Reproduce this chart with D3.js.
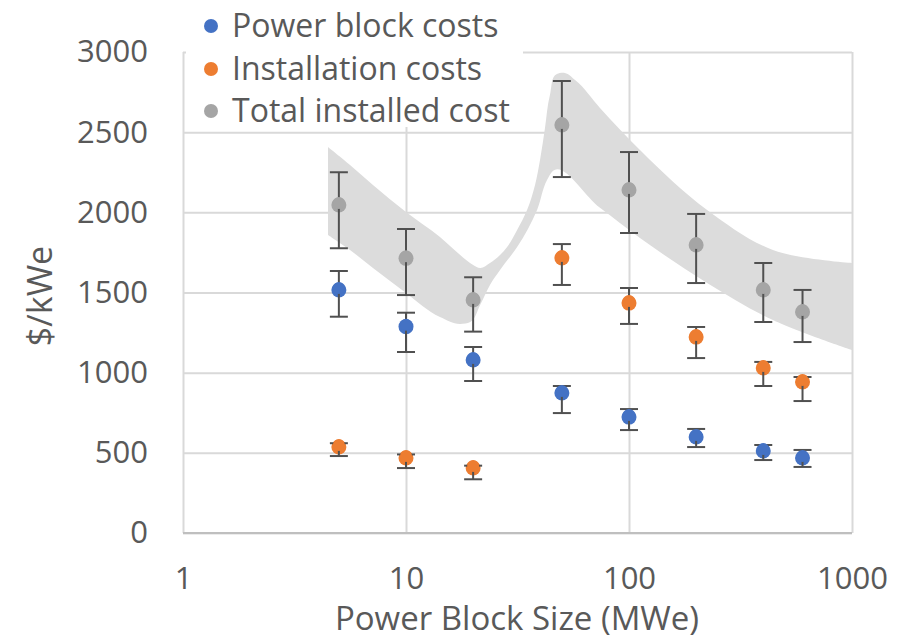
<!DOCTYPE html>
<html>
<head>
<meta charset="utf-8">
<script src="https://cdn.jsdelivr.net/npm/d3@7"></script>
<style>
  html, body { margin: 0; padding: 0; background: #fff; }
  svg { display: block; font-family: "Open Sans", "DejaVu Sans", sans-serif; }
</style>
</head>
<body>
<svg id="chart" width="908" height="639"></svg>
<script>
// Power block sizes (MWe) at which costs were evaluated
const sizes = [5, 10, 20, 50, 100, 200, 400, 600];

// Power block costs ($/kWe) with lower / upper error limits
const powerBlock     = [1516, 1287, 1079, 873, 723, 599, 511, 468];
const powerBlockLow  = [1349, 1129, 948, 748, 642, 536, 455, 412];
const powerBlockHigh = [1634, 1374, 1160, 917, 773, 649, 549, 518];

// Installation costs ($/kWe)
const installation     = [536, 468, 405, 1715, 1434, 1222, 1029, 942];
const installationLow  = [480, 405, 335, 1547, 1304, 1091, 917, 823];
const installationHigh = [560, 490, 420, 1802, 1528, 1285, 1067, 973];

// Total installed cost ($/kWe)
const total     = [2046, 1713, 1453, 2545, 2139, 1796, 1516, 1378];
const totalLow  = [1776, 1484, 1256, 2220, 1871, 1559, 1316, 1191];
const totalHigh = [2250, 1896, 1595, 2819, 2376, 1990, 1684, 1516];

// Shaded range of total installed cost: upper and lower envelopes
const bandUpperX = [4.47, 5.61, 7.11, 10, 14.2, 17.5, 20, 21.5, 23.8, 26.4, 28.4, 31.5, 34.9, 37.9, 39.9, 42.0, 44.2, 47.5, 51.6, 57.3, 74.1, 112, 224, 442, 1000];
const bandUpper  = [2407, 2295, 2171, 2002, 1846, 1734, 1672, 1653, 1684, 1734, 1784, 1890, 2015, 2171, 2326, 2526, 2732, 2863, 2869, 2825, 2651, 2389, 2015, 1765, 1684];
const bandLowerX = [4.47, 5.61, 7.11, 10, 14.2, 17.5, 19.4, 21.5, 23.8, 26.4, 31.5, 38.7, 42.9, 45.1, 74.1, 112, 224, 442, 1000];
const bandLower  = [1859, 1765, 1653, 1497, 1347, 1304, 1316, 1422, 1547, 1640, 1784, 2015, 2202, 2252, 2028, 1840, 1560, 1328, 1141];

// Axis ticks and labels
const xTicks = [1, 10, 100, 1000];
const yTicks = [0, 500, 1000, 1500, 2000, 2500, 3000];
const xTitle = "Power Block Size (MWe)";
const yTitle = "$/kWe";

const seriesNames  = ["Power block costs", "Installation costs", "Total installed cost"];
const seriesColors = ["#4472C4", "#ED7D31", "#A5A5A5"];

const svg = d3.select("#chart");
const W = 908, H = 639;
const margin = { top: 52, right: 56, bottom: 106, left: 183 };
const iw = W - margin.left - margin.right;
const ih = H - margin.top - margin.bottom;

const x = d3.scaleLog().domain([1, 1000]).range([margin.left, margin.left + iw]);
const y = d3.scaleLinear().domain([0, 3000]).range([margin.top + ih, margin.top]);

const textColor = "#595959";
const gridColor = "#d9d9d9";

// Horizontal gridlines with y labels
const gy = svg.append("g")
  .attr("transform", `translate(${margin.left},0)`)
  .call(d3.axisLeft(y).tickValues(yTicks).tickFormat(d3.format("d"))
    .tickSizeInner(-iw).tickSizeOuter(0).tickPadding(35));
gy.select(".domain").remove();
gy.selectAll("line").attr("stroke", gridColor).attr("stroke-width", 2);
gy.selectAll("text").attr("fill", textColor).style("font-size", "31px")
  .style("font-family", "'Open Sans', sans-serif");

// Vertical gridlines with x labels
const gx = svg.append("g")
  .attr("transform", `translate(0,${margin.top + ih})`)
  .call(d3.axisBottom(x).tickValues(xTicks).tickFormat(d3.format("d"))
    .tickSizeInner(-ih).tickSizeOuter(0).tickPadding(34));
gx.select(".domain").remove();
gx.selectAll("line").attr("stroke", gridColor).attr("stroke-width", 2);
gx.selectAll("text").attr("fill", textColor).style("font-size", "31px")
  .style("font-family", "'Open Sans', sans-serif");

// Shaded cost range
const upperPts = bandUpperX.map((d, i) => [x(d), y(bandUpper[i])]);
const lowerPts = bandLowerX.map((d, i) => [x(d), y(bandLower[i])]).reverse();
const edge = d3.line().curve(d3.curveCatmullRom.alpha(1));
const bandPath = edge(upperPts) + "L" + edge(lowerPts).slice(1) + "Z";
svg.append("path").attr("d", bandPath).attr("fill", "#dcdcdc").attr("stroke", "none");

// Bottom axis line
svg.append("line")
  .attr("x1", margin.left).attr("x2", margin.left + iw)
  .attr("y1", y(0)).attr("y2", y(0))
  .attr("stroke", "#bfbfbf").attr("stroke-width", 2);

// Series with error bars
const series = [
  { v: powerBlock, lo: powerBlockLow, hi: powerBlockHigh },
  { v: installation, lo: installationLow, hi: installationHigh },
  { v: total, lo: totalLow, hi: totalHigh }
];
const cap = 9;
const errColor = "#505050";

series.forEach((s, k) => {
  const pts = sizes.map((d, i) => ({ x: d, v: s.v[i], lo: s.lo[i], hi: s.hi[i] }));
  const g = svg.append("g");
  g.selectAll("circle").data(pts).join("circle")
    .attr("cx", d => x(d.x)).attr("cy", d => y(d.v))
    .attr("r", 7.5).attr("fill", seriesColors[k]);
  const eb = g.selectAll("g.err").data(pts).join("g").attr("class", "err")
    .attr("stroke", errColor).attr("stroke-width", 2);
  eb.append("line")
    .attr("x1", d => x(d.x)).attr("x2", d => x(d.x))
    .attr("y1", d => y(d.lo)).attr("y2", d => y(d.hi));
  eb.append("line")
    .attr("x1", d => x(d.x) - cap).attr("x2", d => x(d.x) + cap)
    .attr("y1", d => y(d.hi)).attr("y2", d => y(d.hi));
  eb.append("line")
    .attr("x1", d => x(d.x) - cap).attr("x2", d => x(d.x) + cap)
    .attr("y1", d => y(d.lo)).attr("y2", d => y(d.lo));
  // markers drawn again above the bars' upper half
  g.selectAll("circle.top").data(pts).join("circle").attr("class", "top")
    .attr("cx", d => x(d.x)).attr("cy", d => y(d.v) - 2)
    .attr("r", 6).attr("fill", seriesColors[k]);
});

// Axis titles
svg.append("text")
  .attr("x", 517).attr("y", 618).attr("dy", "0.35em")
  .attr("text-anchor", "middle").attr("fill", textColor)
  .style("font-size", "33px").text(xTitle);
svg.append("text")
  .attr("transform", "translate(40,296) rotate(-90)").attr("dy", "0.35em")
  .attr("text-anchor", "middle").attr("fill", textColor)
  .style("font-size", "34px").text(yTitle);

// Legend
const legend = svg.append("g");
legend.append("rect")
  .attr("x", 186).attr("y", 0).attr("width", 337).attr("height", 127)
  .attr("fill", "#fff");
const legendY = [26, 69, 111];
seriesNames.forEach((name, i) => {
  legend.append("circle").attr("cx", 211).attr("cy", legendY[i]).attr("r", 7)
    .attr("fill", seriesColors[i]);
  legend.append("text").attr("x", 232).attr("y", legendY[i]).attr("dy", "0.35em")
    .attr("fill", textColor).style("font-size", "32px").text(name);
});
</script>
</body>
</html>
